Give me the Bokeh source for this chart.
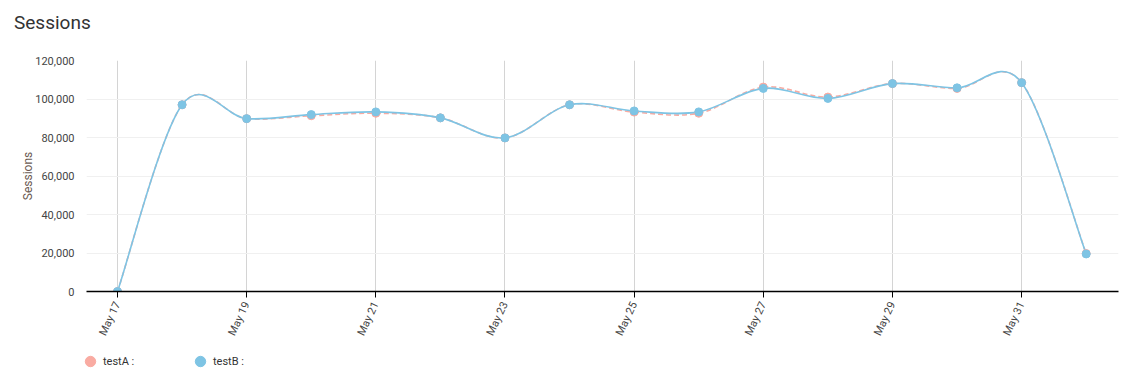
import datetime as dt
from bokeh.plotting import figure
from bokeh.layouts import column, row
from bokeh.models import (FixedTicker, DatetimeTickFormatter, NumeralTickFormatter,
                          Legend, LegendItem, Range1d, Div)
from bokeh.embed import file_html
from bokeh.resources import INLINE

dates = ["2021-05-17", "2021-05-18", "2021-05-19", "2021-05-20", "2021-05-21",
         "2021-05-22", "2021-05-23", "2021-05-24", "2021-05-25", "2021-05-26",
         "2021-05-27", "2021-05-28", "2021-05-29", "2021-05-30", "2021-05-31",
         "2021-06-01"]
testA = [0, 97000, 89800, 91300, 92600, 90200, 79800, 97000, 93200, 92600,
         106200, 101000, 108000, 105500, 108500, 19700]
testB = [0, 97000, 89800, 91900, 93300, 90200, 79800, 97000, 93800, 93300,
         105500, 100300, 108000, 105800, 108500, 19500]
tick_dates = ["2021-05-17", "2021-05-19", "2021-05-21", "2021-05-23",
              "2021-05-25", "2021-05-27", "2021-05-29", "2021-05-31"]
y_ticks = [0, 20000, 40000, 60000, 80000, 100000, 120000]
series_names = ["testA :", "testB :"]
chart_title = "Sessions"

COL_A = "#f9aba2"
COL_B = "#7ec4e4"
FONT = "Roboto"


def to_ms(s):
    d = dt.datetime.strptime(s, "%Y-%m-%d").replace(tzinfo=dt.timezone.utc)
    return d.timestamp() * 1000.0


xs = [to_ms(d) for d in dates]
DAY = 86400000.0


def cardinal(xv, yv):
    n = len(xv)
    seg = dict(x0=[], y0=[], x1=[], y1=[], cx0=[], cy0=[], cx1=[], cy1=[])
    for i in range(n - 1):
        im = max(i - 1, 0)
        ip = min(i + 2, n - 1)
        seg["x0"].append(xv[i]); seg["y0"].append(yv[i])
        seg["x1"].append(xv[i + 1]); seg["y1"].append(yv[i + 1])
        seg["cx0"].append(xv[i] + (xv[i + 1] - xv[im]) / 6)
        seg["cy0"].append(yv[i] + (yv[i + 1] - yv[im]) / 6)
        seg["cx1"].append(xv[i + 1] - (xv[ip] - xv[i]) / 6)
        seg["cy1"].append(yv[i + 1] - (yv[ip] - yv[i]) / 6)
    return seg


# title strip
head = Div(text=chart_title, width=1120, height=30,
           styles={"font-family": "Roboto", "font-size": "19px",
                   "color": "#333333", "padding-left": "9px",
                   "padding-top": "7px", "line-height": "22px",
                   "box-sizing": "border-box"})

p = figure(width=1120, height=305, x_axis_type="datetime",
           output_backend="svg", toolbar_location=None,
           x_range=Range1d(xs[0] - 0.48 * DAY, xs[-1] + 0.5 * DAY),
           y_range=Range1d(0, 120000),
           min_border_left=86, min_border_right=2, min_border_top=20,
           min_border_bottom=54)
p.outline_line_color = None

# grid
p.xgrid.ticker = FixedTicker(ticks=[to_ms(d) for d in tick_dates])
p.xgrid.grid_line_color = "#d4d4d4"
p.ygrid.grid_line_color = "#f0f0f0"

# axes
xa = p.xaxis[0]
xa.ticker = FixedTicker(ticks=[to_ms(d) for d in tick_dates])
xa.formatter = DatetimeTickFormatter(days="%b %d", months="%b %d")
xa.major_label_orientation = 1.13
xa.axis_line_color = "#000000"
xa.axis_line_width = 1.5
xa.major_tick_line_color = "#000000"
xa.major_tick_out = 6
xa.major_tick_in = 0
xa.minor_tick_line_color = None
xa.major_label_text_font = FONT
xa.major_label_text_font_size = "11px"
xa.major_label_text_color = "#444444"

ya = p.yaxis[0]
ya.ticker = FixedTicker(ticks=y_ticks)
ya.formatter = NumeralTickFormatter(format="0,0")
ya.axis_line_color = None
ya.major_tick_line_color = None
ya.minor_tick_line_color = None
ya.major_label_text_font = FONT
ya.major_label_text_font_size = "11px"
ya.major_label_text_color = "#444444"
ya.major_label_standoff = 6
ya.axis_label = "Sessions"
ya.axis_label_text_font = FONT
ya.axis_label_text_font_size = "12px"
ya.axis_label_text_font_style = "normal"
ya.axis_label_text_color = "#6b5a52"
ya.axis_label_standoff = -3

sa = cardinal(xs, testA)
sb = cardinal(xs, testB)
p.bezier(x0="x0", y0="y0", x1="x1", y1="y1", cx0="cx0", cy0="cy0",
         cx1="cx1", cy1="cy1", source=sa, line_color=COL_A, line_width=1.6,
         line_dash="5 3")
p.bezier(x0="x0", y0="y0", x1="x1", y1="y1", cx0="cx0", cy0="cy0",
         cx1="cx1", cy1="cy1", source=sb, line_color=COL_B, line_width=1.6)
p.scatter(xs, testA, size=8, fill_color=COL_A, line_color=COL_A)
p.scatter(xs, testB, size=8, fill_color=COL_B, line_color=COL_B)

# legend strip below the chart (its own plot; the series glyphs sit outside its view)
lg = figure(width=1120, height=30, output_backend="svg", toolbar_location=None,
            x_range=Range1d(0, 1), y_range=Range1d(0, 1), min_border=0)
lg.outline_line_color = None
lg.axis.visible = False
lg.grid.visible = False
la = lg.scatter(xs[:1], testA[:1], fill_color=COL_A, line_color=COL_A)
lb = lg.scatter(xs[:1], testB[:1], fill_color=COL_B, line_color=COL_B)
legend = Legend(items=[LegendItem(label=series_names[0], renderers=[la]),
                       LegendItem(label=series_names[1], renderers=[lb])],
                orientation="horizontal", location=(77, 1),
                glyph_width=26, glyph_height=26, label_standoff=0,
                label_width=84, spacing=0, padding=0, margin=0,
                border_line_color=None, background_fill_alpha=0,
                label_text_font=FONT, label_text_font_size="11px",
                label_text_color="#333333")
lg.add_layout(legend, "center")

layout = column(head, p, row(lg), spacing=0)
open("out.html", "w").write(file_html(layout, INLINE))
